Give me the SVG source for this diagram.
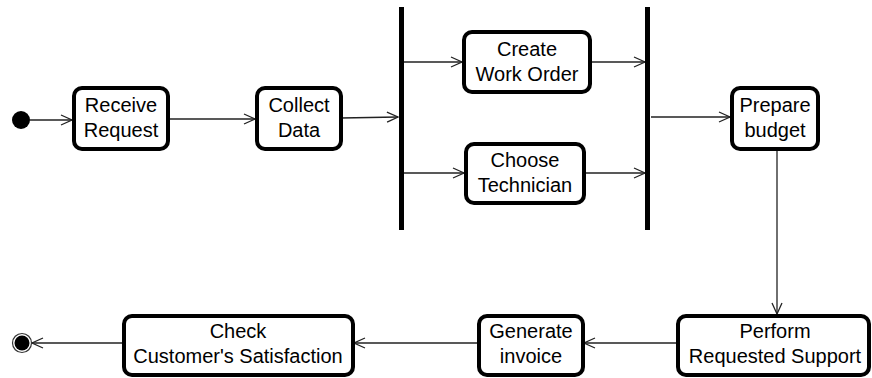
<svg xmlns="http://www.w3.org/2000/svg" width="872" height="378" viewBox="0 0 872 378">
<style>
.box{fill:#fff;stroke:#000;stroke-width:4}
.bar{fill:#000}
.lbl{font-family:"Liberation Sans",Arial,sans-serif;font-size:20px;fill:#000;text-anchor:middle}
.edge{stroke:#222;stroke-width:1.3;fill:none}
</style>
<defs>
<marker id="arr" markerWidth="14" markerHeight="12" refX="12" refY="6" orient="auto" markerUnits="userSpaceOnUse">
<path d="M1,1 L12,6 L1,11" fill="none" stroke="#222" stroke-width="1.3"/>
</marker>
</defs>
<rect width="872" height="378" fill="#fff"/>
<g id="edges">
<line class="edge" x1="30" y1="120" x2="72" y2="120" marker-end="url(#arr)"/>
<line class="edge" x1="168" y1="119" x2="255" y2="119" marker-end="url(#arr)"/>
<line class="edge" x1="341" y1="118" x2="398" y2="117" marker-end="url(#arr)"/>
<line class="edge" x1="404" y1="62" x2="462" y2="62" marker-end="url(#arr)"/>
<line class="edge" x1="404" y1="173" x2="464" y2="173" marker-end="url(#arr)"/>
<line class="edge" x1="590" y1="62" x2="645" y2="62" marker-end="url(#arr)"/>
<line class="edge" x1="584" y1="173" x2="645" y2="173" marker-end="url(#arr)"/>
<line class="edge" x1="651" y1="117" x2="730" y2="117" marker-end="url(#arr)"/>
<line class="edge" x1="777" y1="150" x2="777" y2="314" marker-end="url(#arr)"/>
<line class="edge" x1="677" y1="343" x2="584" y2="343" marker-end="url(#arr)"/>
<line class="edge" x1="478" y1="343" x2="354" y2="343" marker-end="url(#arr)"/>
<line class="edge" x1="123" y1="343" x2="32" y2="343" marker-end="url(#arr)"/>
</g>
<g id="start"><circle cx="21" cy="120" r="9" fill="#000"/></g>
<g id="receive"><rect class="box" x="74" y="88" width="94" height="61" rx="8"/><text class="lbl" x="121" y="112">Receive</text><text class="lbl" x="121" y="137">Request</text></g>
<g id="collect"><rect class="box" x="257" y="88" width="84" height="61" rx="8"/><text class="lbl" x="299" y="112">Collect</text><text class="lbl" x="299" y="137">Data</text></g>
<g id="fork"><rect class="bar" x="399" y="7" width="5" height="223"/></g>
<g id="create"><rect class="box" x="464" y="32" width="126" height="60" rx="8"/><text class="lbl" x="527" y="56">Create</text><text class="lbl" x="527" y="81">Work Order</text></g>
<g id="choose"><rect class="box" x="466" y="144" width="118" height="59" rx="8"/><text class="lbl" x="525" y="167">Choose</text><text class="lbl" x="525" y="192">Technician</text></g>
<g id="join"><rect class="bar" x="645" y="7" width="5" height="223"/></g>
<g id="prepare"><rect class="box" x="732" y="88" width="86" height="61" rx="8"/><text class="lbl" x="775" y="112">Prepare</text><text class="lbl" x="775" y="137">budget</text></g>
<g id="perform"><rect class="box" x="678" y="316" width="191" height="59" rx="8"/><text class="lbl" x="775" y="338">Perform</text><text class="lbl" x="775" y="363">Requested Support</text></g>
<g id="generate"><rect class="box" x="479" y="316" width="104" height="59" rx="8"/><text class="lbl" x="531" y="338">Generate</text><text class="lbl" x="531" y="363">invoice</text></g>
<g id="check"><rect class="box" x="124" y="316" width="229" height="59" rx="8"/><text class="lbl" x="238" y="338">Check</text><text class="lbl" x="238" y="363">Customer's Satisfaction</text></g>
<g id="end"><circle cx="22" cy="343" r="9.5" fill="#fff" stroke="#333" stroke-width="1.2"/><circle cx="22" cy="343" r="7.5" fill="#000"/></g>
</svg>
